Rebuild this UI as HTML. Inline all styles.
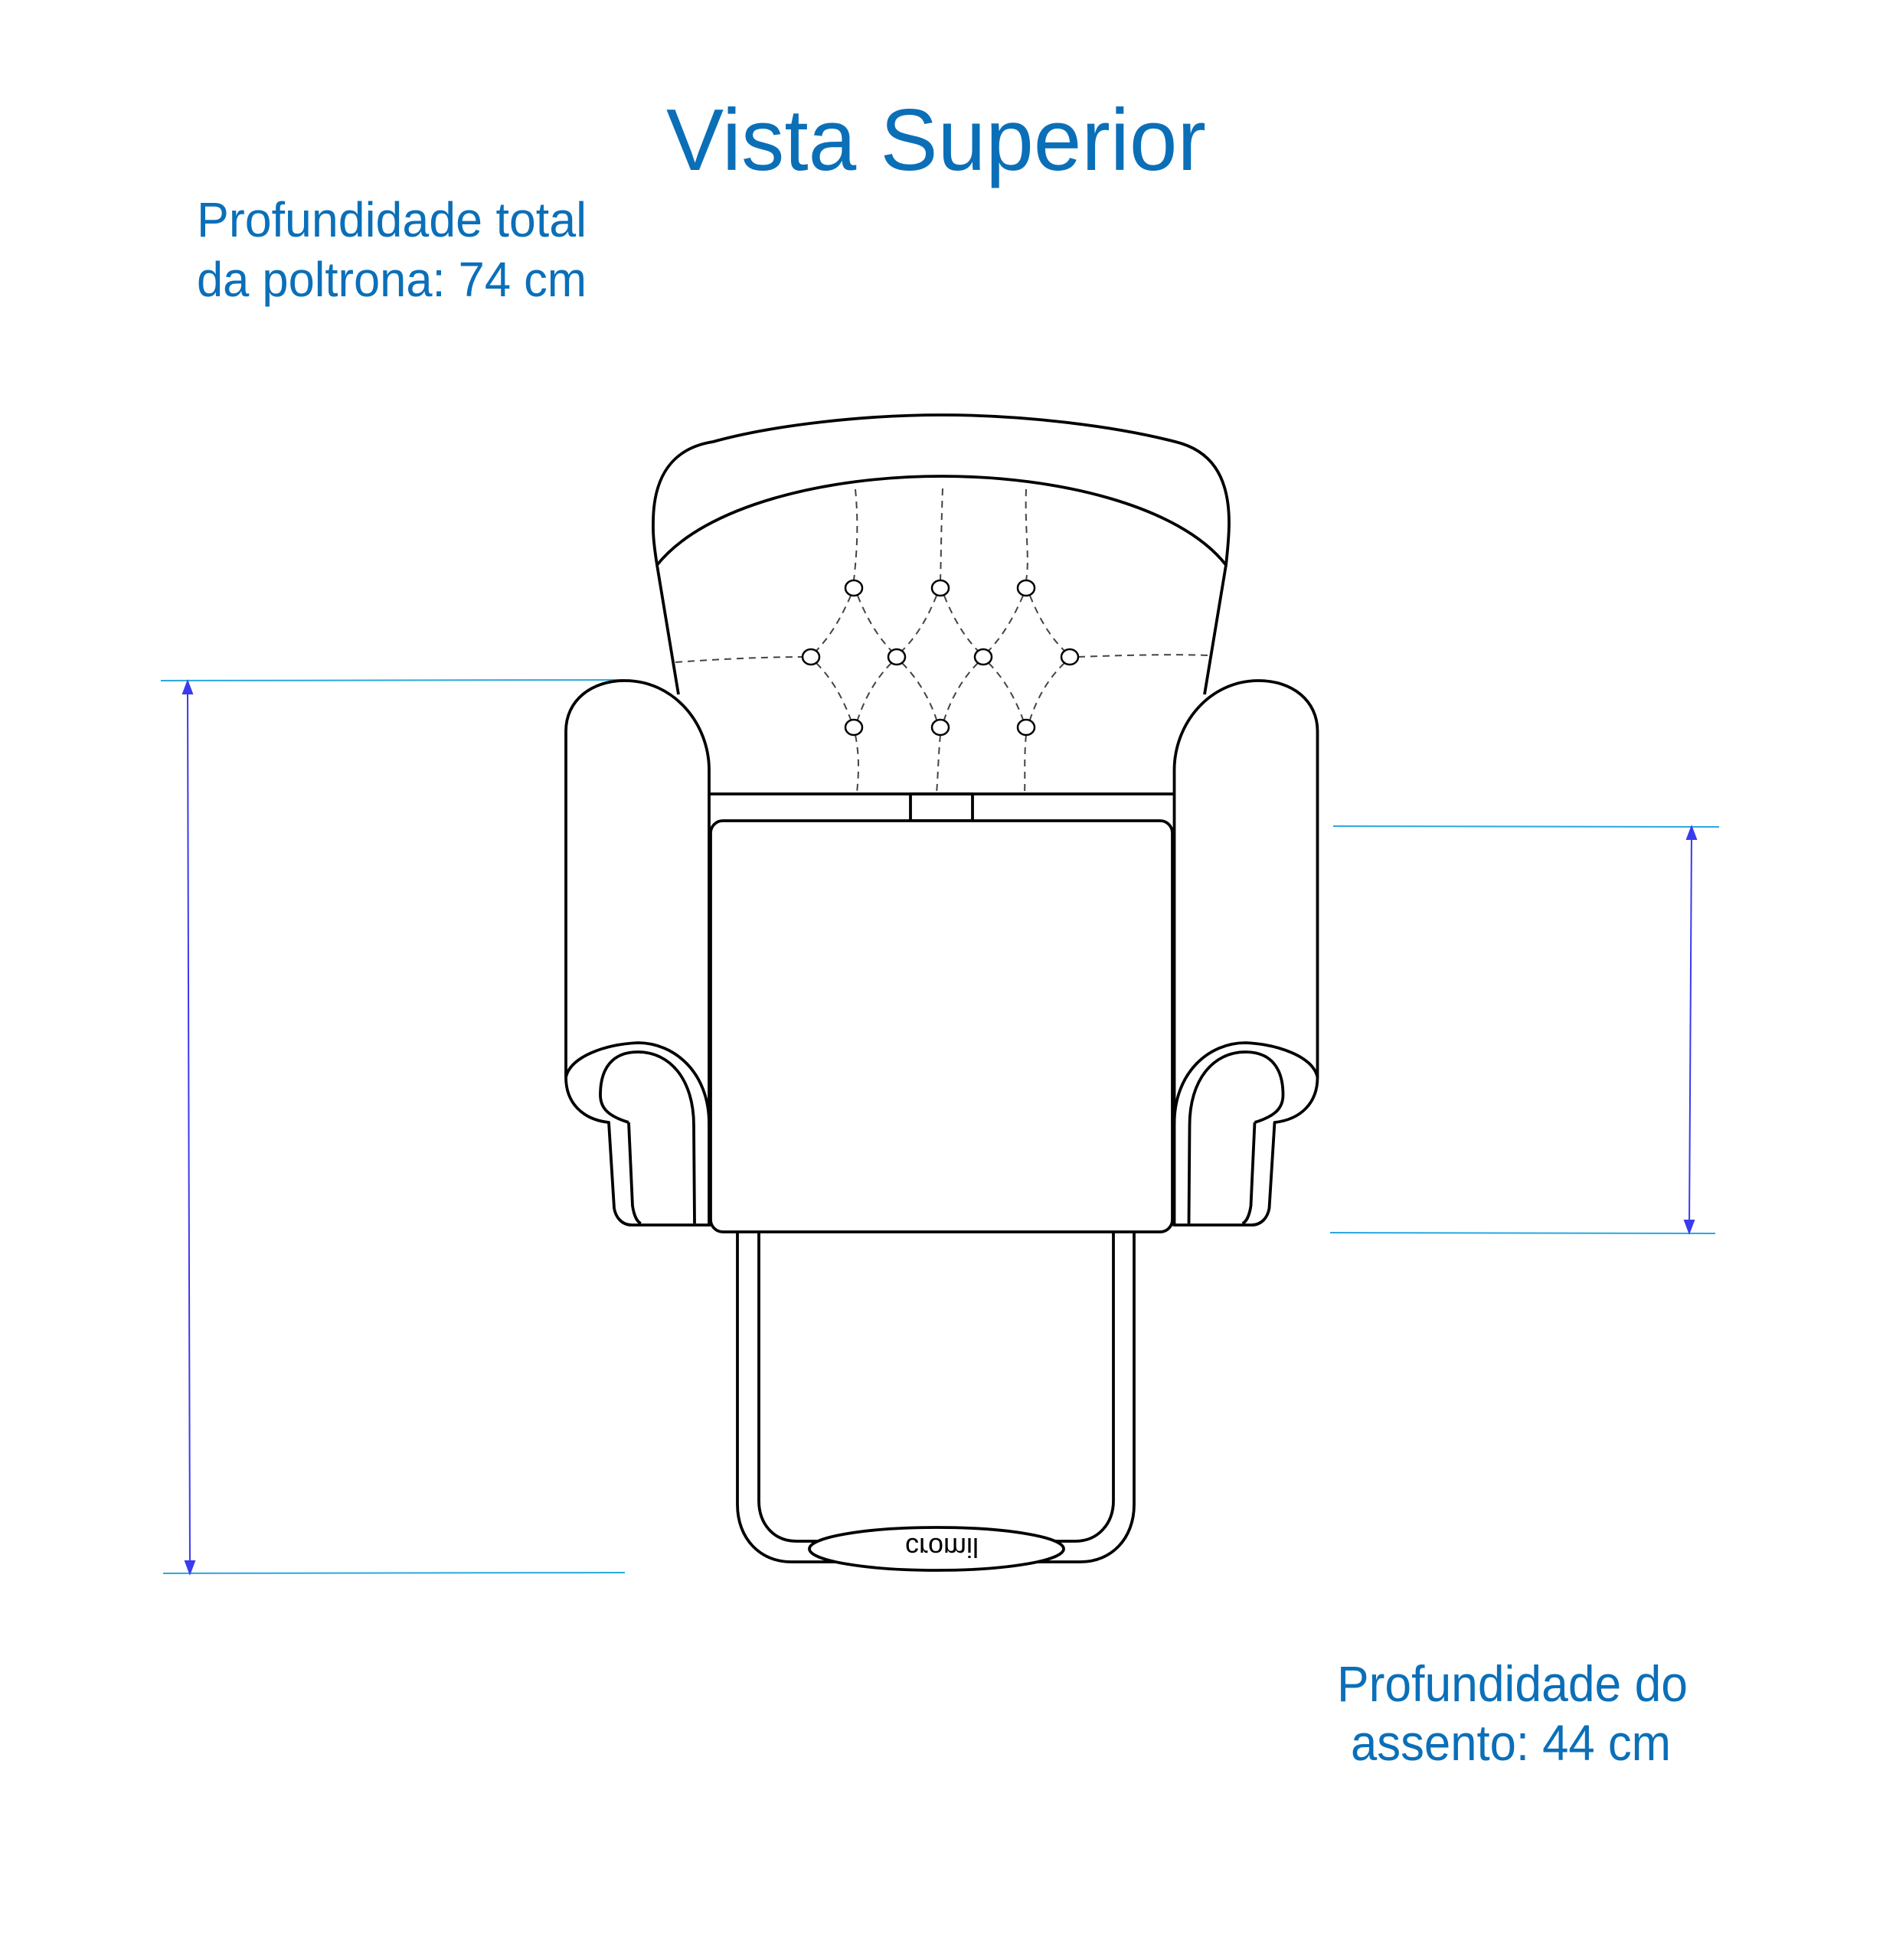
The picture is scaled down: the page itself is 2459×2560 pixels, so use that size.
<!DOCTYPE html>
<html><head><meta charset="utf-8"><style>
html,body{margin:0;padding:0;background:#fff;}
svg{display:block;}
text{font-family:"Liberation Sans",sans-serif;fill:#0b6fb8;}
</style></head><body>
<svg width="2459" height="2560" viewBox="0 0 2459 2560" xmlns="http://www.w3.org/2000/svg">
<text x="870" y="222" font-size="114" textLength="705" lengthAdjust="spacingAndGlyphs">Vista Superior</text>
<text x="257" y="309" font-size="64" textLength="509" lengthAdjust="spacingAndGlyphs">Profundidade total</text>
<text x="257" y="387" font-size="64" textLength="509" lengthAdjust="spacingAndGlyphs">da poltrona: 74 cm</text>
<text x="1746" y="2222" font-size="66" textLength="458" lengthAdjust="spacingAndGlyphs">Profundidade do</text>
<text x="1764" y="2299" font-size="66" textLength="418" lengthAdjust="spacingAndGlyphs">assento: 44 cm</text>

<g stroke="#29a8e0" stroke-width="2" fill="none">
<line x1="210" y1="889" x2="815" y2="888"/>
<line x1="213" y1="2055" x2="816" y2="2054"/>
<line x1="1741" y1="1079" x2="2245" y2="1080"/>
<line x1="1737" y1="1610" x2="2240" y2="1611"/>
</g>
<g stroke="#3a3aee" stroke-width="2" fill="#3a3aee">
<line x1="245" y1="897" x2="248" y2="2047"/>
<path d="M245,890 L239,906 L251,906Z"/>
<path d="M248,2055 L242,2039 L254,2039Z"/>
<line x1="2209" y1="1087" x2="2206" y2="1602"/>
<path d="M2209,1080 L2203,1096 L2215,1096Z"/>
<path d="M2206,1610 L2200,1594 L2212,1594Z"/>
</g>

<g stroke="#000" stroke-width="3.8" fill="none" stroke-linejoin="round">
<path d="M886,907 L858,738 C852,700 853,690 853,683 C853,620 880,585 931,577 C1010,555 1130,542 1230,542 C1330,542 1450,555 1535,577 C1580,588 1605,620 1605,683 C1605,700 1603,720 1601,738 L1573,907"/>
<path d="M858,738 C920,660 1080,622 1230,622 C1380,622 1540,660 1601,738"/>
<path d="M739,1407 L739,955 C739,915 772,889 816,889 C880,889 926,945 926,1006 L926,1600"/>
<path d="M739,1407 C739,1440 760,1462 795,1466 L802,1578 C804,1590 812,1600 825,1600 L928,1600"/>
<path d="M739,1407 C745,1380 790,1364 833,1362 C880,1362 926,1400 926,1468"/>
<path d="M821,1466 C795,1458 784,1448 784,1430 C784,1395 800,1374 833,1374 C875,1374 906,1410 906,1470 L907,1598"/>
<path d="M821,1466 L826,1575 C828,1588 832,1596 837,1598"/>
<g transform="translate(2459.5,0) scale(-1,1)">
<path d="M739,1407 L739,955 C739,915 772,889 816,889 C880,889 926,945 926,1006 L926,1600"/>
<path d="M739,1407 C739,1440 760,1462 795,1466 L802,1578 C804,1590 812,1600 825,1600 L928,1600"/>
<path d="M739,1407 C745,1380 790,1364 833,1362 C880,1362 926,1400 926,1468"/>
<path d="M821,1466 C795,1458 784,1448 784,1430 C784,1395 800,1374 833,1374 C875,1374 906,1410 906,1470 L907,1598"/>
<path d="M821,1466 L826,1575 C828,1588 832,1596 837,1598"/>
</g>
<line x1="926" y1="1037" x2="1533" y2="1037"/>
<rect x="1189" y="1037" width="81" height="35"/>
<path d="M963,1610 L963,1965 C963,2010 993,2040 1033,2040 L1411,2040 C1451,2040 1481,2010 1481,1965 L1481,1610" fill="#fff"/>
<path d="M991,1610 L991,1960 C991,1990 1010,2013 1040,2013 L1404,2013 C1434,2013 1454,1990 1454,1960 L1454,1610"/>
<rect x="928" y="1072" width="603" height="537" rx="16" fill="#fff"/>
<ellipse cx="1223" cy="2023" rx="166" ry="28" fill="#fff"/>
</g>
<text x="0" y="0" font-size="36" text-anchor="middle" style="fill:#000" transform="translate(1230,2009) scale(1,-1)">cromil</text>

<g stroke="#444" stroke-width="2" stroke-dasharray="9,7" fill="none">
<path d="M1117,639 C1122,690 1118,730 1115,758"/>
<path d="M1231,638 C1229,690 1229,730 1228,758"/>
<path d="M1340,639 C1338,690 1345,730 1340,758"/>
<path d="M882,865 C950,860 1010,858 1048,858"/>
<path d="M1408,858 C1460,856 1530,854 1577,856"/>
<path d="M1111,778 C1095,815 1080,835 1066,850"/>
<path d="M1120,778 C1135,815 1150,835 1164,850"/>
<path d="M1223,778 C1208,815 1193,835 1178,850"/>
<path d="M1233,778 C1248,815 1263,835 1277,850"/>
<path d="M1336,778 C1320,815 1305,835 1291,850"/>
<path d="M1345,778 C1360,815 1375,835 1390,850"/>
<path d="M1066,866 C1085,885 1100,910 1111,940"/>
<path d="M1164,866 C1145,885 1130,910 1120,940"/>
<path d="M1178,866 C1197,885 1213,910 1223,940"/>
<path d="M1277,866 C1258,885 1243,910 1233,940"/>
<path d="M1291,866 C1310,885 1325,910 1336,940"/>
<path d="M1390,866 C1370,885 1355,910 1345,940"/>
<path d="M1117,960 C1123,990 1121,1015 1119,1035"/>
<path d="M1228,960 C1225,990 1225,1015 1223,1035"/>
<path d="M1340,960 C1337,990 1339,1015 1338,1035"/>
</g>
<g stroke="#000" stroke-width="2.5" fill="#fff">
<ellipse cx="1115" cy="768" rx="11" ry="10"/>
<ellipse cx="1228" cy="768" rx="11" ry="10"/>
<ellipse cx="1340" cy="768" rx="11" ry="10"/>
<ellipse cx="1059" cy="858" rx="11" ry="10"/>
<ellipse cx="1171" cy="858" rx="11" ry="10"/>
<ellipse cx="1284" cy="858" rx="11" ry="10"/>
<ellipse cx="1397" cy="858" rx="11" ry="10"/>
<ellipse cx="1115" cy="950" rx="11" ry="10"/>
<ellipse cx="1228" cy="950" rx="11" ry="10"/>
<ellipse cx="1340" cy="950" rx="11" ry="10"/>
</g>
</svg>
</body></html>
